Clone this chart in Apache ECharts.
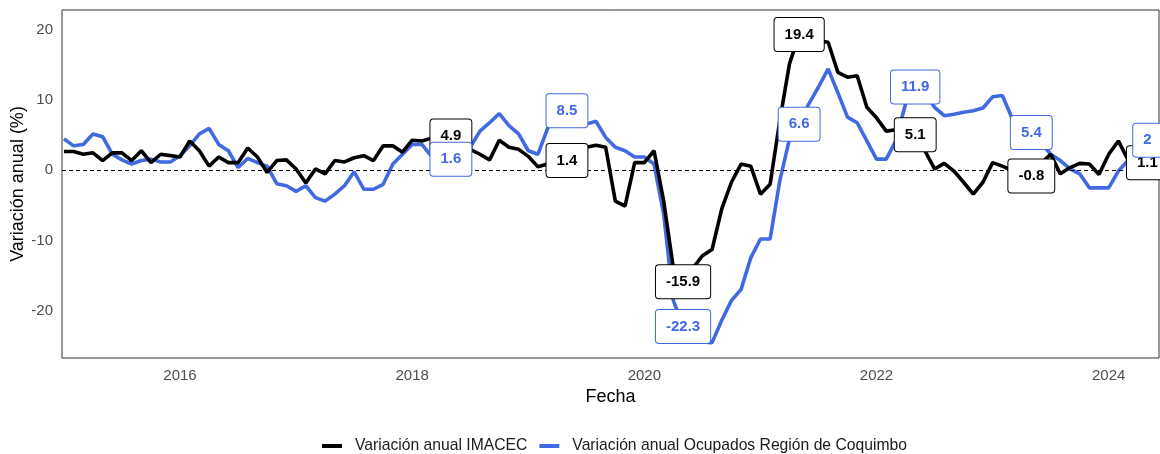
<!DOCTYPE html>
<html>
<head>
<meta charset="utf-8">
<title>Variación anual IMACEC y Ocupados Región de Coquimbo</title>
<script src="https://cdn.jsdelivr.net/npm/echarts@6/dist/echarts.min.js"></script>
<style>
  html, body { margin: 0; padding: 0; background: #fff; }
  #main { width: 1160px; height: 454px; }
</style>
</head>
<body>
<div id="main"></div>
<script>
// serie mensual desde enero 2015 (un valor por mes)
var startYear = 2015;

var imacec = [
  2.7, 2.7, 2.3, 2.5, 1.4, 2.5, 2.5, 1.4, 2.8, 1.1, 2.3, 2.1,        // 2015
  1.9, 4.2, 2.8, 0.6, 1.9, 1.1, 1.1, 3.2, 1.9, -0.3, 1.4, 1.5,       // 2016
  0.2, -1.8, 0.2, -0.5, 1.4, 1.2, 1.8, 2.1, 1.4, 3.5, 3.5, 2.6,      // 2017
  4.3, 4.2, 4.6, 5.0, 4.9, 4.5, 3.0, 2.3, 1.5, 4.3, 3.3, 3.0,        // 2018
  2.0, 0.5, 0.9, 1.2, 1.4, 2.8, 3.3, 3.6, 3.3, -4.4, -5.1, 1.1,      // 2019
  1.1, 2.8, -4.4, -14.0, -15.9, -14.0, -12.2, -11.3, -5.5, -1.7, 0.9, 0.6, // 2020
  -3.4, -2.0, 7.1, 15.2, 19.4, 19.8, 18.5, 18.3, 14.0, 13.3, 13.5, 9.0,   // 2021
  7.5, 5.6, 5.8, 5.5, 5.1, 2.8, 0.2, 1.0, -0.1, -1.7, -3.4, -1.7,    // 2022
  1.1, 0.6, 0.0, -0.5, -0.8, 1.0, 2.3, -0.5, 0.4, 1.0, 0.9, -0.6,    // 2023
  2.3, 4.2, 1.5, 1.2, 1.1                                            // 2024
];

var coquimbo = [
  4.5, 3.5, 3.7, 5.2, 4.8, 2.3, 1.5, 0.9, 1.4, 1.6, 1.2, 1.2,        // 2015
  2.1, 3.5, 5.2, 6.0, 3.7, 2.8, 0.4, 1.7, 1.1, 0.6, -1.9, -2.2,      // 2016
  -3.0, -2.2, -3.9, -4.4, -3.4, -2.2, -0.2, -2.7, -2.7, -2.0, 0.9, 2.3, // 2017
  3.7, 3.7, 2.0, 1.6, 1.6, 2.2, 3.3, 5.6, 6.8, 8.1, 6.4, 5.2,        // 2018
  2.8, 2.3, 6.0, 8.0, 8.5, 7.5, 6.6, 7.0, 4.7, 3.3, 2.8, 1.9,        // 2019
  1.9, 0.9, -6.3, -18.6, -22.3, -24.0, -24.5, -24.6, -21.4, -18.6, -17.0, -12.5, // 2020
  -9.8, -9.8, -1.5, 4.5, 6.6, 9.5, 11.9, 14.5, 11.1, 7.6, 6.8, 4.2,  // 2021
  1.6, 1.6, 4.2, 9.5, 11.9, 11.0, 9.0, 7.8, 8.0, 8.3, 8.5, 8.9,      // 2022
  10.5, 10.7, 7.5, 6.2, 5.4, 4.0, 2.3, 1.4, 0.2, -0.5, -2.5, -2.5,   // 2023
  -2.5, -0.1, 1.4, 2.0, 2.0                                          // 2024
];

var labelDates = ['2018-05', '2019-05', '2020-05', '2021-05', '2022-05', '2023-05', '2024-05'];
var tickYears = [2016, 2018, 2020, 2022, 2024];
var yTicks = [-20, -10, 0, 10, 20];

var nameImacec = 'Variación anual IMACEC';
var nameCoquimbo = 'Variación anual Ocupados Región de Coquimbo';
var colorImacec = '#000000';
var colorCoquimbo = '#4169E1';
var font = '"Liberation Sans", Arial, sans-serif';

function monthIndex(s) {
  var p = s.split('-');
  return (+p[0] - startYear) * 12 + (+p[1] - 1);
}

function toPoints(arr) {
  return arr.map(function (v, i) { return [i, v]; });
}

// etiquetas en mayo de cada año; la última etiqueta azul va corrida hacia arriba (repel)
function labelPoints(arr, lastOffset) {
  return labelDates.map(function (d, k) {
    var i = monthIndex(d);
    var item = { value: [i, arr[i]] };
    if (lastOffset && k === labelDates.length - 1) {
      item.label = { offset: lastOffset };
    }
    return item;
  });
}

function labelSeries(name, arr, color, z, lastOffset) {
  return {
    name: name,
    type: 'scatter',
    data: labelPoints(arr, lastOffset),
    symbolSize: 0,
    z: z,
    silent: true,
    itemStyle: { opacity: 1 },
    label: {
      show: true,
      position: 'inside',
      formatter: function (p) { return String(p.value[1]); },
      fontFamily: font,
      fontSize: 15,
      fontWeight: 'bold',
      lineHeight: 17,
      color: color,
      opacity: 1,
      backgroundColor: '#ffffff',
      borderColor: color,
      borderWidth: 1,
      borderRadius: 3,
      padding: [8, 10]
    }
  };
}

var chart = echarts.init(document.getElementById('main'));

var option = {
  animation: false,
  backgroundColor: '#ffffff',
  grid: {
    left: 62, right: 1, top: 10, bottom: 96,
    outerBoundsMode: 'none',
    containLabel: false,
    show: true,
    borderColor: '#333333',
    borderWidth: 1
  },
  legend: {
    data: [nameImacec, nameCoquimbo],
    left: 322,
    top: 438,
    padding: 0,
    icon: 'rect',
    itemWidth: 20,
    itemHeight: 4,
    itemGap: 12,
    textStyle: {
      fontFamily: font,
      fontSize: 15.7,
      color: '#1a1a1a',
      padding: [0, 0, 0, 8]
    }
  },
  xAxis: {
    type: 'value',
    min: -0.2,
    max: 113.2,
    name: 'Fecha',
    nameLocation: 'middle',
    nameGap: 30,
    nameMoveOverlap: false,
    nameTextStyle: { fontFamily: font, fontSize: 18, color: '#000000' },
    axisLine: { show: false },
    axisTick: { show: false },
    splitLine: { show: false },
    axisLabel: {
      customValues: tickYears.map(function (y) { return (y - startYear) * 12; }),
      formatter: function (v) { return String(Math.round(startYear + v / 12)); },
      margin: 10,
      fontFamily: font,
      fontSize: 15,
      color: '#4d4d4d'
    }
  },
  yAxis: {
    type: 'value',
    min: -26.8,
    max: 22.9,
    name: 'Variación anual (%)',
    nameLocation: 'middle',
    nameGap: 35,
    nameMoveOverlap: false,
    nameTextStyle: { fontFamily: font, fontSize: 18, color: '#000000' },
    axisLine: { show: false },
    axisTick: { show: false },
    splitLine: { show: false },
    axisLabel: {
      customValues: yTicks,
      margin: 9,
      fontFamily: font,
      fontSize: 15,
      color: '#4d4d4d'
    }
  },
  series: [
    {
      name: nameCoquimbo,
      type: 'line',
      data: toPoints(coquimbo),
      showSymbol: false,
      color: colorCoquimbo,
      lineStyle: { width: 3.6, color: colorCoquimbo },
      z: 2,
      markLine: {
        silent: true,
        symbol: ['none', 'none'],
        label: { show: false },
        lineStyle: { color: '#000000', type: [4, 3], width: 1 },
        data: [{ yAxis: 0 }]
      }
    },
    {
      name: nameImacec,
      type: 'line',
      data: toPoints(imacec),
      showSymbol: false,
      color: colorImacec,
      lineStyle: { width: 3.6, color: colorImacec },
      z: 3
    },
    labelSeries(nameImacec, imacec, colorImacec, 5, null),
    labelSeries(nameCoquimbo, coquimbo, colorCoquimbo, 6, [0, -16])
  ]
};

chart.setOption(option);
</script>
</body>
</html>
